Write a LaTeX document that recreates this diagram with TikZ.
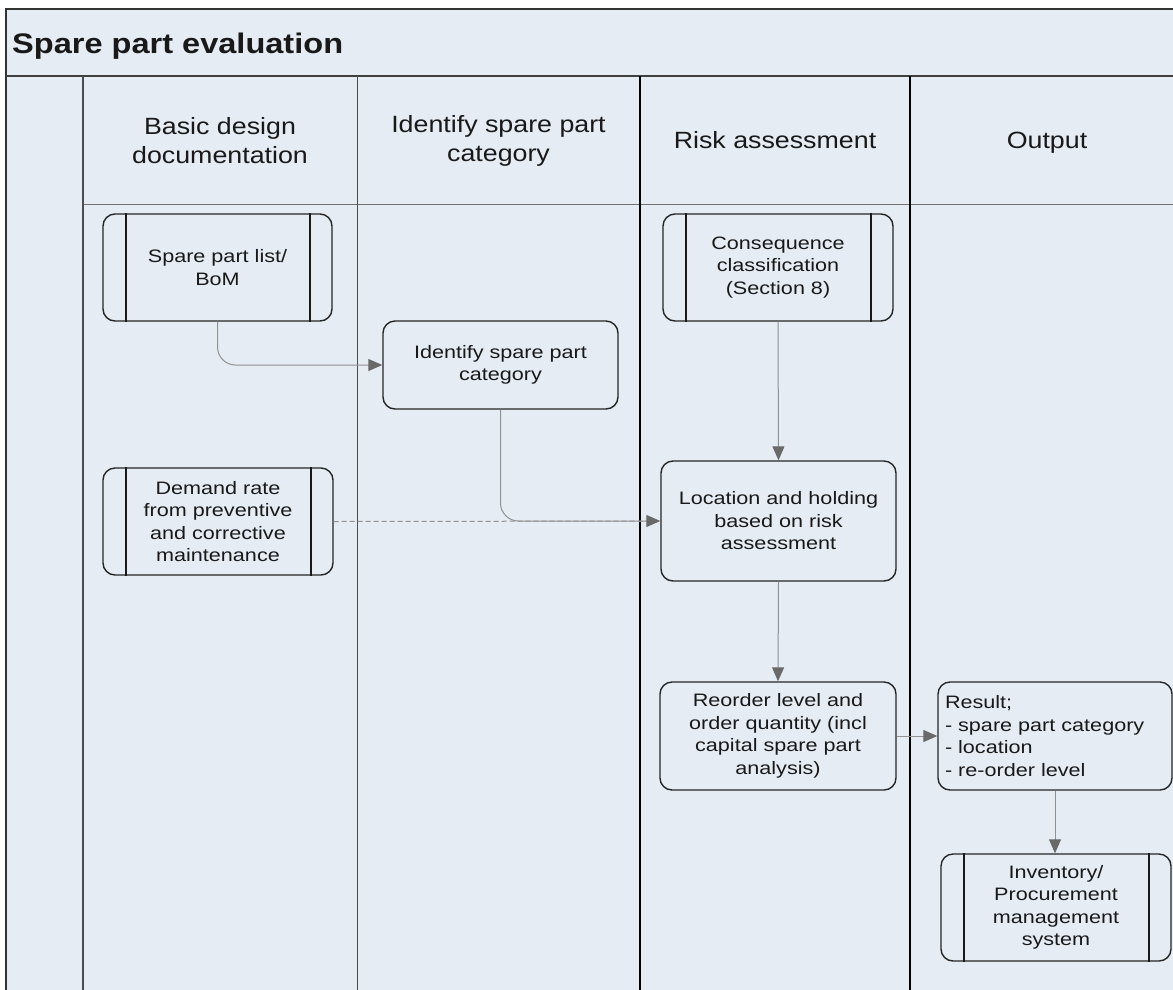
\documentclass[tikz,border=0pt]{standalone}
\usepackage{fontspec}
\setmainfont{Liberation Sans}
\newfontfamily\boxfont{Liberation Sans}[FakeStretch=1.2]
\newfontfamily\headfont{Liberation Sans}[FakeStretch=1.14]
\newfontfamily\titlefont{Liberation Sans}[FakeStretch=1.15]
\usetikzlibrary{arrows.meta}
\definecolor{lanebg}{RGB}{229,236,244}
\definecolor{connc}{RGB}{145,145,145}
\definecolor{tipc}{RGB}{105,105,105}
\definecolor{textc}{RGB}{25,25,25}
\begin{document}
\begin{tikzpicture}[x=1pt,y=-1pt,
  box/.style={draw=black!85, line width=1.4pt, rounded corners=12pt, fill=lanebg,
    align=center, text=textc, inner sep=0pt,
    font=\boxfont\fontsize{18}{22.5}\selectfont},
  subbar/.style={draw=black!90, line width=2pt},
  head/.style={align=center, text=textc, inner sep=0pt,
    font=\headfont\fontsize{23.5}{29}\selectfont},
  conn/.style={draw=connc, line width=1pt, rounded corners=18pt,
    -{Triangle[length=14pt,width=12pt,fill=tipc,color=tipc]}},
  dconn/.style={draw=connc, line width=1pt, dash pattern=on 5pt off 3pt},
  lane/.style={draw=black!80, line width=1.4pt}
]
\useasboundingbox (0,0) rectangle (1173,989);
\fill[white] (0,0) rectangle (1173,989);
\fill[lanebg] (6,9) rectangle (1190,1000);
% frame and lane lines
\draw[draw=black!80, line width=1.4pt] (6,1000) -- (6,9) -- (1190,9);
\draw[draw=black!75, line width=2pt] (6,76) -- (1190,76);
\draw[draw=black!55, line width=1pt] (83,204) -- (1190,204);
\draw[draw=black!70, line width=1.4pt] (83,76) -- (83,1000);
\draw[draw=black!70, line width=1pt] (357,76) -- (357,1000);
\draw[draw=black, line width=2pt] (640,76) -- (640,1000);
\draw[draw=black, line width=1.6pt] (910,76) -- (910,1000);
% title and headers
\node[anchor=base west, inner sep=0pt, text=textc, font=\titlefont\bfseries\fontsize{28.3}{34}\selectfont] (title) at (12,53) {Spare part evaluation};
\node[head] (h1) at (220,141) {Basic design\\documentation};
\node[head] (h2) at (498.5,141) {Identify spare part\\category};
\node[head, anchor=base] (h3) at (775,148) {Risk assessment};
\node[head, anchor=base] (h4) at (1047,148) {Output};
% boxes
\node[box, minimum width=229pt, minimum height=107pt] (bom) at (217.5,267.5) {Spare part list/\\BoM};
\node[box, minimum width=235pt, minimum height=88pt] (idcat) at (500.5,365) {Identify spare part\\category};
\node[box, minimum width=230pt, minimum height=107pt] (demand) at (218,521.5) {Demand rate\\from preventive\\and corrective\\maintenance};
\node[box, minimum width=230pt, minimum height=107pt] (conseq) at (778,267.5) {Consequence\\classification\\(Section 8)};
\node[box, minimum width=235pt, minimum height=120pt] (loc) at (778.5,521) {Location and holding\\based on risk\\assessment};
\node[box, minimum width=236pt, minimum height=108pt] (reorder) at (778,736) {Reorder level and\\order quantity (incl\\capital spare part\\analysis)};
\node[box, minimum width=234pt, minimum height=108pt, text width=220pt, align=left] (result) at (1055,736) {Result;\\- spare part category\\- location\\- re-order level};
\node[box, minimum width=230pt, minimum height=107pt] (inv) at (1056,907.5) {Inventory/\\Procurement\\management\\system};
% sub-process bars
\foreach \n in {bom,demand,conseq,inv}{
  \draw[subbar] ([xshift=24pt]\n.north west) -- ([xshift=24pt]\n.south west);
  \draw[subbar] ([xshift=-23pt]\n.north east) -- ([xshift=-23pt]\n.south east);
}
% connectors
\draw[dconn] (demand.east) -- (loc.west);
\draw[conn] (bom.south) -- (bom.south |- idcat.west) -- (idcat.west);
\draw[conn] (idcat.south) -- (idcat.south |- loc.west) -- (loc.west);
\draw[conn] (conseq.south) -- (loc.north);
\draw[conn] (loc.south) -- (reorder.north);
\draw[conn] (reorder.east) -- (result.west);
\draw[conn] (result.south) -- (result.south |- inv.north);
\end{tikzpicture}
\end{document}
